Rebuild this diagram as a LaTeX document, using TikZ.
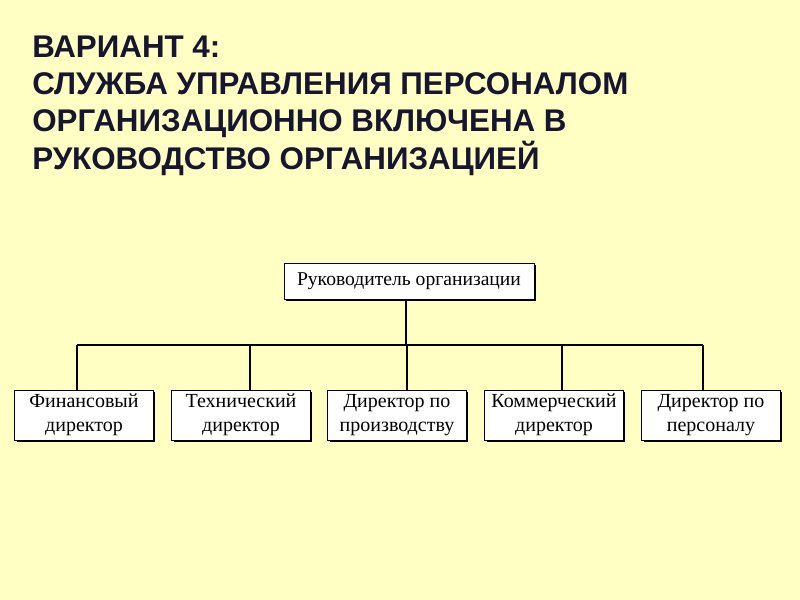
\documentclass[tikz,border=0pt]{standalone}
\usepackage{fontspec}
\setmainfont{Liberation Serif}
\newfontfamily\headfont{Liberation Sans}
\usetikzlibrary{shadows}
\definecolor{slidebg}{RGB}{255,255,196}
\definecolor{titleblue}{RGB}{22,22,48}
\tikzstyle{post} = [draw, fill=white, line width=0.6pt, align=center, inner sep=0pt,
  font=\fontsize{15}{18}\selectfont,
  drop shadow={shadow xshift=1.4pt, shadow yshift=-1.4pt, fill=black, opacity=1}]
\tikzstyle{link} = [line width=1.1pt]

\begin{document}
\begin{tikzpicture}[x=0.75pt, y=-0.75pt]
\useasboundingbox[fill=slidebg] (0,0) rectangle (800,600);
   \node (Title) at (32,36) [anchor=north west, align=left, inner sep=0pt, text=titleblue,
      font=\headfont\bfseries\fontsize{23.5}{27.8}\selectfont]
      {ВАРИАНТ 4:\\СЛУЖБА УПРАВЛЕНИЯ ПЕРСОНАЛОМ\\ОРГАНИЗАЦИОННО ВКЛЮЧЕНА В\\РУКОВОДСТВО ОРГАНИЗАЦИЕЙ};

   \node (Head) at (409,281) [post, font=\fontsize{14.7}{17}\selectfont, minimum width=187.5pt, minimum height=27pt] {Руководитель организации};

   \node (Fin) at (84,415) [post, minimum width=104pt, minimum height=37.5pt] {Финансовый\\директор};
   \node (Tech) at (241,415) [post, minimum width=104pt, minimum height=37.5pt] {Технический\\директор};
   \node (Prod) at (397,415) [post, minimum width=104pt, minimum height=37.5pt] {Директор по\\производству};
   \node (Com) at (554,415) [post, minimum width=104pt, minimum height=37.5pt] {Коммерческий\\директор};
   \node (Pers) at (711,415) [post, minimum width=104pt, minimum height=37.5pt] {Директор по\\персоналу};

   % bus line
   \coordinate (Bus) at (406,345);
   \coordinate (DFin) at (77,345);
   \coordinate (DPers) at (703,345);
   \draw[link] (Bus |- Head.south) -- (Bus);
   \draw[link] (DFin) -- (DPers);
   \foreach \x/\n in {77/Fin, 250/Tech, 407/Prod, 562/Com, 703/Pers}
      \draw[link] (\x,345) coordinate (D\n) -- (D\n |- \n.north);
\end{tikzpicture}
\end{document}
